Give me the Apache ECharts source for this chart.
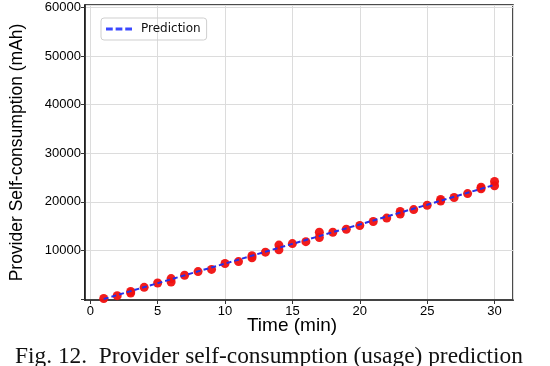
<!DOCTYPE html>
<html>
<head>
<meta charset="utf-8">
<script src="https://cdn.jsdelivr.net/npm/echarts@6/dist/echarts.min.js"></script>
<style>
  html, body { margin: 0; padding: 0; background: #fff; }
  #chart { width: 550px; height: 366px; }
</style>
</head>
<body>
<div id="chart"></div>
<script>
// measured self-consumption (red dots), some minutes have two readings
const measMinutes = [1, 2, 3, 3, 4, 5, 6, 6, 7, 8, 9, 10, 11, 12, 12, 13, 14, 14, 15,
  16, 17, 17, 18, 19, 20, 21, 22, 23, 23, 24, 25, 26, 26, 27, 28, 29, 29, 30, 30];
const measUsage = [100, 700, 1250, 1550, 2400, 3300, 3500, 4200, 4900, 5650, 6100, 7300, 7700, 8500, 8900, 9650, 10150, 11100, 11400,
  11800, 12650, 13750, 13750, 14350, 15130, 15950, 16650, 17500, 18000, 18400, 19300, 20150, 20500, 20900, 21700, 22700, 23000, 23300, 24200];

// prediction line (blue dashed)
const predMinutes = [1, 5, 10, 15, 20, 25, 30];
const predUsage = [0, 3250, 7300, 11350, 15350, 19400, 23500];

const caption = 'Fig. 12.  Provider self-consumption (usage) prediction';

const chart = echarts.init(document.getElementById('chart'));

const axisFont = { fontFamily: 'Liberation Sans, Arial, sans-serif', color: '#000' };

chart.setOption({
  animation: false,
  title: {
    text: caption,
    left: 10,
    top: 340,
    textStyle: { fontFamily: 'Liberation Serif, Times New Roman, serif', fontWeight: 'normal', fontSize: 23.4, color: '#111' }
  },
  legend: {
    data: [{ name: 'Prediction', icon: 'path://M0,0H7V3H0Z M10,0H17V3H10Z M20,0H27V3H20Z' }],
    left: 101,
    top: 18,
    padding: [5, 6, 5, 5],
    itemWidth: 26,
    itemHeight: 3,
    itemGap: 8,
    borderColor: '#cfcfcf',
    borderWidth: 1,
    borderRadius: 3,
    textStyle: { fontFamily: 'DejaVu Sans, sans-serif', fontSize: 12, color: '#111', padding: [0, 0, 0, 4] }
  },
  grid: {
    left: 81, right: 37, top: 5, bottom: 66,
    show: true,
    borderColor: '#111',
    borderWidth: 1.5
  },
  xAxis: {
    type: 'value',
    min: -0.39,
    max: 31.37,
    splitNumber: 6,
    name: 'Time (min)',
    nameLocation: 'middle',
    nameGap: 16,
    nameMoveOverlap: false,
    nameTextStyle: Object.assign({ fontSize: 19, padding: [0, 14, 0, 0] }, axisFont),
    axisLine: { show: true, onZero: false, lineStyle: { color: '#111', width: 1.5 } },
    axisTick: { show: true, inside: false, length: 4, lineStyle: { color: '#333' } },
    axisLabel: Object.assign({
      fontSize: 13, margin: 5,
      showMinLabel: false, showMaxLabel: false,
      formatter: v => (Math.abs(v % 5) < 1e-6 ? String(v) : '')
    }, axisFont),
    splitLine: { show: true, lineStyle: { color: '#dcdcdc', width: 1 } }
  },
  yAxis: {
    type: 'value',
    min: -200,
    max: 60500,
    splitNumber: 6,
    name: 'Provider Self-consumption (mAh)',
    nameLocation: 'middle',
    nameGap: 59,
    nameMoveOverlap: false,
    nameTextStyle: Object.assign({ fontSize: 17.5 }, axisFont),
    axisLine: { show: true, onZero: false, lineStyle: { color: '#111', width: 1.5 } },
    axisTick: { show: true, inside: false, length: 4, lineStyle: { color: '#333' } },
    axisLabel: Object.assign({
      fontSize: 13, margin: 4,
      showMinLabel: false, showMaxLabel: false,
      formatter: v => (v > 0 && Math.abs(v % 10000) < 1e-6 ? String(v) : '')
    }, axisFont),
    splitLine: { show: true, lineStyle: { color: '#dcdcdc', width: 1 } }
  },
  series: [
    {
      name: 'Measured',
      type: 'scatter',
      data: measMinutes.map((m, i) => [m, measUsage[i]]),
      symbolSize: 9,
      itemStyle: { color: '#f01010', opacity: 0.95 },
      z: 2
    },
    {
      name: 'Prediction',
      type: 'line',
      data: predMinutes.map((m, i) => [m, predUsage[i]]),
      symbol: 'none',
      lineStyle: { color: '#2530e8', width: 2, type: [5, 3] },
      itemStyle: { color: '#3a48ff' },
      z: 3
    }
  ]
});
</script>
</body>
</html>
